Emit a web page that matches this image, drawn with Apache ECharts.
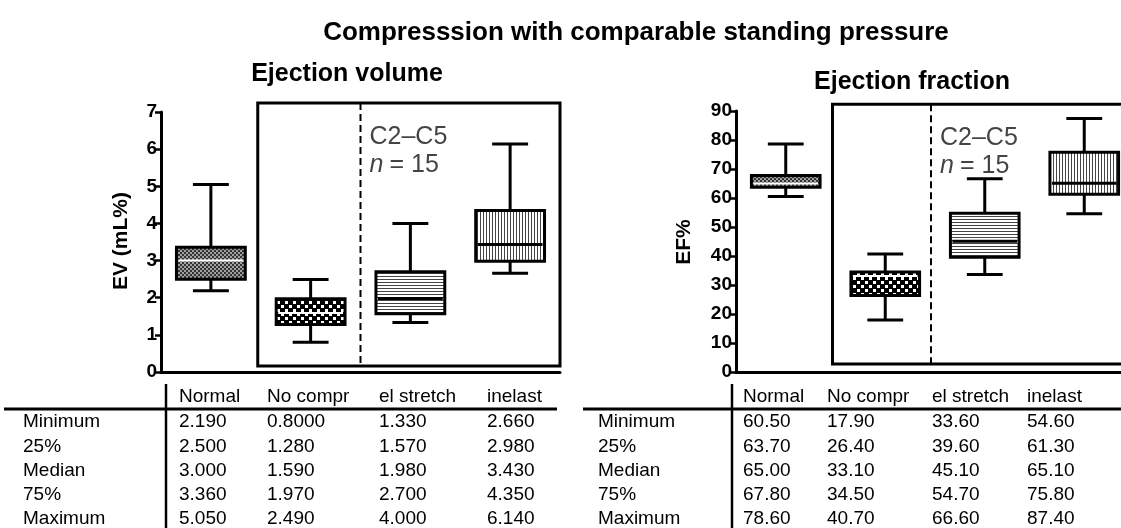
<!DOCTYPE html>
<html>
<head>
<meta charset="utf-8">
<script src="https://cdn.jsdelivr.net/npm/echarts@6/dist/echarts.min.js"></script>
<style>
html,body{margin:0;padding:0;background:#fff;}
#chart{width:1121px;height:528px;}
</style>
</head>
<body>
<div id="chart"></div>
<script>
// ---------------- DATA ----------------
const mainTitle = 'Compresssion with comparable standing pressure';
const evTitle = 'Ejection volume';
const efTitle = 'Ejection fraction';
const evAxisName = 'EV (mL%)';
const efAxisName = 'EF%';
const categories = ['Normal', 'No compr', 'el stretch', 'inelast'];
const statLabels = ['Minimum', '25%', 'Median', '75%', 'Maximum'];

const evMin    = [2.19, 0.80, 1.33, 2.66];
const ev25     = [2.50, 1.28, 1.57, 2.98];
const evMedian = [3.00, 1.59, 1.98, 3.43];
const ev75     = [3.36, 1.97, 2.70, 4.35];
const evMax    = [5.05, 2.49, 4.00, 6.14];

const efMin    = [60.5, 17.9, 33.6, 54.6];
const ef25     = [63.7, 26.4, 39.6, 61.3];
const efMedian = [65.0, 33.1, 45.1, 65.1];
const ef75     = [67.8, 34.5, 54.7, 75.8];
const efMax    = [78.6, 40.7, 66.6, 87.4];

const groupLabel = 'C2\u2013C5';
const nLabel = 'n';
const nValue = '= 15';

// ---------------- STYLE / LAYOUT ----------------
const FONT = '"Liberation Sans", Arial, Helvetica, sans-serif';

function makePattern(kind) {
  const c = document.createElement('canvas');
  const ctx = c.getContext('2d');
  if (kind === 'fine') {
    c.width = 4; c.height = 4;
    ctx.fillStyle = '#a0a0a0'; ctx.fillRect(0, 0, 4, 4);
    ctx.fillStyle = '#333'; ctx.fillRect(0, 0, 2, 2); ctx.fillRect(2, 2, 2, 2);
  } else if (kind === 'coarse') {
    c.width = 8; c.height = 8;
    ctx.fillStyle = '#000'; ctx.fillRect(0, 0, 8, 8);
    ctx.fillStyle = '#fff'; ctx.fillRect(1, 1, 3, 3); ctx.fillRect(5, 5, 3, 3);
  } else if (kind === 'h') {
    c.width = 3; c.height = 3;
    ctx.fillStyle = '#fff'; ctx.fillRect(0, 0, 3, 3);
    ctx.fillStyle = '#444'; ctx.fillRect(0, 0, 3, 1);
  } else {
    c.width = 3; c.height = 3;
    ctx.fillStyle = '#fff'; ctx.fillRect(0, 0, 3, 3);
    ctx.fillStyle = '#444'; ctx.fillRect(0, 0, 1, 3);
  }
  return { image: c, repeat: 'repeat' };
}
const boxFills = [makePattern('fine'), makePattern('coarse'), makePattern('h'), makePattern('v')];
const medianColors = ['#fff', '#fff', '#000', '#000'];

function boxData(mn, q1, md, q3, mx) {
  return categories.map((c, i) => [i, mn[i], q1[i], md[i], q3[i], mx[i]]);
}

function renderBox(params, api) {
  const idx = api.value(0);
  const band = api.size([1, 0])[0];
  const cx = api.coord([idx, 0])[0];
  const yMin = api.coord([idx, api.value(1)])[1];
  const yQ1 = api.coord([idx, api.value(2)])[1];
  const yMed = api.coord([idx, api.value(3)])[1];
  const yQ3 = api.coord([idx, api.value(4)])[1];
  const yMax = api.coord([idx, api.value(5)])[1];
  const bw = band * 0.69, cw = band * 0.36;
  const lw = 3;
  const ls = { stroke: '#000', lineWidth: lw, fill: null };
  return {
    type: 'group',
    children: [
      { type: 'line', shape: { x1: cx, y1: yMax, x2: cx, y2: yQ3 }, style: ls },
      { type: 'line', shape: { x1: cx, y1: yQ1, x2: cx, y2: yMin }, style: ls },
      { type: 'line', shape: { x1: cx - cw / 2, y1: yMax, x2: cx + cw / 2, y2: yMax }, style: ls },
      { type: 'line', shape: { x1: cx - cw / 2, y1: yMin, x2: cx + cw / 2, y2: yMin }, style: ls },
      { type: 'rect', shape: { x: cx - bw / 2, y: yQ3, width: bw, height: yQ1 - yQ3 },
        style: { fill: boxFills[idx], stroke: '#000', lineWidth: lw } },
      { type: 'line', shape: { x1: cx - bw / 2 + 2, y1: yMed, x2: cx + bw / 2 - 2, y2: yMed },
        style: { stroke: medianColors[idx], lineWidth: idx < 2 ? 2 : 3 } }
    ]
  };
}

function makeFrameRenderer(textColor, dashShift) {
  return function (params, api) {
    const band = api.size([1, 0])[0];
    const a = api.coord([api.value(0), api.value(2)]);
    const b = api.coord([api.value(1), api.value(3)]);
    const left = a[0] - band / 2 - 3;
    const right = b[0] + band / 2;
    const top = a[1], bottom = b[1];
    const dashX = a[0] + band / 2 + dashShift;
    const st = (t, font) => ({ text: t, font: font, fill: textColor, align: 'left', verticalAlign: 'middle', textAlign: 'left', textVerticalAlign: 'middle' });
    return {
      type: 'group',
      children: [
        { type: 'rect', shape: { x: left, y: top, width: right - left, height: bottom - top },
          style: { fill: null, stroke: '#000', lineWidth: 3 } },
        { type: 'line', shape: { x1: dashX, y1: top, x2: dashX, y2: bottom },
          style: { stroke: '#000', lineWidth: 2, lineDash: [7, 4] } },
        { type: 'text', x: dashX + 9, y: top + 34, style: st(groupLabel, '25px ' + FONT) },
        { type: 'text', x: dashX + 9, y: top + 62, style: st(nLabel, 'italic 25px ' + FONT) },
        { type: 'text', x: dashX + 29, y: top + 62, style: st(nValue, '25px ' + FONT) }
      ]
    };
  };
}

function txt(text, x, y, font, align, extra) {
  return Object.assign({
    type: 'text', x: x, y: y, silent: true,
    style: { text: text, font: font, fill: '#000', align: align || 'left', verticalAlign: 'middle',
             textAlign: align || 'left', textVerticalAlign: 'middle' }
  }, extra || {});
}
function hline(x1, x2, y, w) {
  return { type: 'line', silent: true, shape: { x1: x1, y1: y, x2: x2, y2: y }, style: { stroke: '#000', lineWidth: w } };
}
function vline(x, y1, y2, w) {
  return { type: 'line', silent: true, shape: { x1: x, y1: y1, x2: x, y2: y2 }, style: { stroke: '#000', lineWidth: w } };
}

function buildTable(stats, labelX, colXs, sepX, lineX1, lineX2) {
  const rowYs = [422, 446.5, 471, 495, 519];
  const headerY = 397;
  const f = '19px ' + FONT;
  const els = [];
  els.push(vline(sepX, 384, 528, 2.5));
  els.push(hline(lineX1, lineX2, 409, 3));
  categories.forEach((c, j) => els.push(txt(c, colXs[j], headerY, f)));
  statLabels.forEach((s, r) => {
    els.push(txt(s, labelX, rowYs[r], f));
    categories.forEach((c, j) => els.push(txt(stats[r][j].toPrecision(4), colXs[j], rowYs[r], f)));
  });
  return els;
}

const graphics = [];
graphics.push(txt(mainTitle, 636, 33, 'bold 26px ' + FONT, 'center'));
graphics.push(txt(evTitle, 347, 74, 'bold 25px ' + FONT, 'center'));
graphics.push(txt(efTitle, 912, 82, 'bold 25px ' + FONT, 'center'));
graphics.push(txt(evAxisName, 121, 241, 'bold 21px ' + FONT, 'center', { rotation: Math.PI / 2 }));
graphics.push(txt(efAxisName, 684, 242, 'bold 21px ' + FONT, 'center', { rotation: Math.PI / 2 }));
buildTable([evMin, ev25, evMedian, ev75, evMax], 23, [179, 267, 379, 487], 166, 4, 557)
  .forEach(e => graphics.push(e));
buildTable([efMin, ef25, efMedian, ef75, efMax], 598, [743, 827, 932, 1027], 732, 583, 1121)
  .forEach(e => graphics.push(e));

const axisLabelStyle = { color: '#000', fontWeight: 'bold', fontSize: 19, fontFamily: FONT, margin: 4 };
function yAx(gi, max, interval) {
  return {
    type: 'value', gridIndex: gi, min: 0, max: max, interval: interval,
    axisLine: { show: true, lineStyle: { color: '#000', width: 3 } },
    axisTick: { show: true, length: 6, lineStyle: { color: '#000', width: 2.5 } },
    axisLabel: axisLabelStyle,
    splitLine: { show: false }
  };
}
function xAx(gi) {
  return {
    type: 'category', gridIndex: gi, data: categories, boundaryGap: true,
    axisLine: { show: true, lineStyle: { color: '#000', width: 3 } },
    axisTick: { show: false }, axisLabel: { show: false }, splitLine: { show: false }
  };
}

const chart = echarts.init(document.getElementById('chart'), null, { renderer: 'canvas' });
chart.setOption({
  animation: false,
  backgroundColor: '#fff',
  grid: [
    { left: 161, top: 112, width: 399, height: 260, outerBoundsMode: 'none', containLabel: false },
    { left: 736, top: 111, width: 398, height: 261, outerBoundsMode: 'none', containLabel: false }
  ],
  xAxis: [xAx(0), xAx(1)],
  yAxis: [yAx(0, 7, 1), yAx(1, 90, 10)],
  series: [
    { type: 'custom', xAxisIndex: 0, yAxisIndex: 0, z: 1, silent: true,
      renderItem: makeFrameRenderer('#444', 0), encode: { x: [0, 1], y: [2, 3] },
      data: [[1, 3, 7.24, 0.16]] },
    { type: 'custom', xAxisIndex: 1, yAxisIndex: 1, z: 1, silent: true,
      renderItem: makeFrameRenderer('#444', -4), encode: { x: [0, 1], y: [2, 3] },
      data: [[1, 3, 92.3, 2.75]] },
    { type: 'custom', xAxisIndex: 0, yAxisIndex: 0, z: 3, silent: true,
      renderItem: renderBox, encode: { x: 0, y: [1, 2, 3, 4, 5] },
      data: boxData(evMin, ev25, evMedian, ev75, evMax) },
    { type: 'custom', xAxisIndex: 1, yAxisIndex: 1, z: 3, silent: true,
      renderItem: renderBox, encode: { x: 0, y: [1, 2, 3, 4, 5] },
      data: boxData(efMin, ef25, efMedian, ef75, efMax) }
  ],
  graphic: graphics
});
</script>
</body>
</html>
